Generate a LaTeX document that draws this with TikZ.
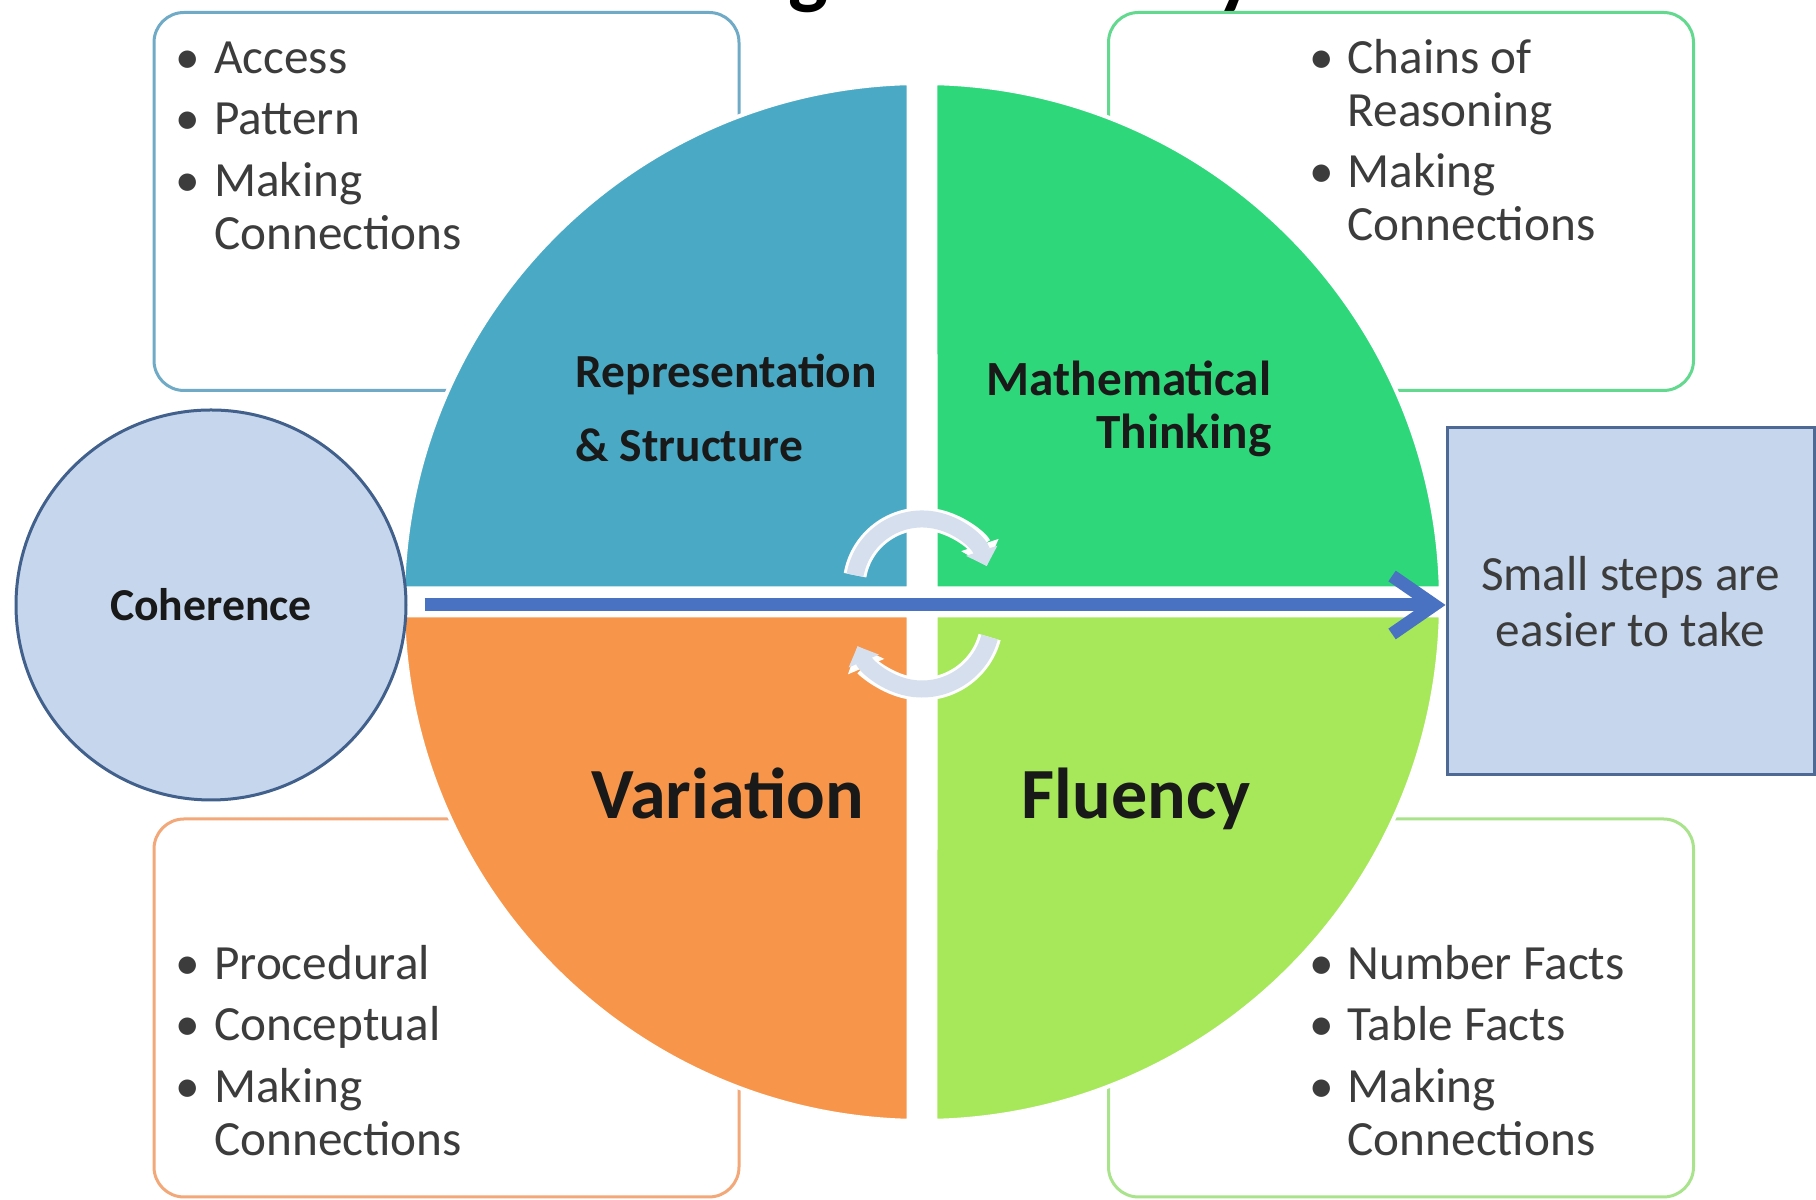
\documentclass[tikz,border=0pt]{standalone}
\usepackage{fontspec}
\setmainfont{Carlito}
\usetikzlibrary{positioning, arrows.meta}

\definecolor{repfill}{HTML}{4AAAC5}
\definecolor{mathfill}{HTML}{2ED87A}
\definecolor{varfill}{HTML}{F7964A}
\definecolor{flufill}{HTML}{A6E85A}
\definecolor{repline}{HTML}{6FAAC6}
\definecolor{mathline}{HTML}{62D98F}
\definecolor{varline}{HTML}{F2A878}
\definecolor{fluline}{HTML}{A9E48C}
\definecolor{cohfill}{HTML}{C6D6EC}
\definecolor{cohline}{HTML}{41608C}
\definecolor{stepline}{HTML}{4E6A94}
\definecolor{flowblue}{HTML}{4A72C2}
\definecolor{cyclefill}{HTML}{D5DFEE}
\definecolor{txtgray}{HTML}{3C3C3C}

\newcommand{\ptlist}[1]{{\fontsize{14}{15}\selectfont\begin{tabular}[t]{@{}l@{\hspace{1.4mm}}l@{}}#1\end{tabular}}}

\begin{document}
\begin{tikzpicture}[x=0.1mm, y=0.1mm,
    listbox/.style={draw, fill=white, line width=0.3mm, rounded corners=3mm, minimum width=58.5mm, minimum height=37.8mm, inner sep=0pt},
    listtext/.style={anchor=base west, inner sep=0pt, text=txtgray},
    quadlabel/.style={inner sep=0pt, text=black!90, font=\bfseries},
    cycleback/.style={white, line width=2.3mm, -{Triangle[length=2.2mm, width=3.8mm]}},
    cyclefront/.style={cyclefill, line width=1.7mm, -{Triangle[length=1.6mm, width=3.2mm]}},
    flow/.style={flowblue, line width=1.3mm, -{Straight Barb[length=4.2mm, width=5.8mm]}}]
    \useasboundingbox (0,0) rectangle (1816,1200);

    % title, only its lowest part is on the page
    \node[font=\bfseries\fontsize{24}{28}\selectfont, anchor=base, inner sep=0pt] (title) at (890,1201) {Teaching for Mastery};

    % the four boxes behind the circle
    \node[listbox, draw=repline] (repBox) at (446.5,998.5) {};
    \node[listbox, draw=mathline] (mathBox) at (1401,998.5) {};
    \node[listbox, draw=varline] (varBox) at (446.5,192) {};
    \node[listbox, draw=fluline] (fluBox) at (1401,192) {};

    \node[listtext] (repList) at ([xshift=2.25mm, yshift=-6.25mm]repBox.north west) {\ptlist{\textbullet & Access\\[2.5pt] \textbullet & Pattern\\[2.5pt] \textbullet & Making\\ & Connections}};
    \node[listtext] (mathList) at ([xshift=20.15mm, yshift=-6.25mm]mathBox.north west) {\ptlist{\textbullet & Chains of\\ & Reasoning\\[2.5pt] \textbullet & Making\\ & Connections}};
    \node[listtext] (varList) at ([xshift=2.25mm, yshift=-16.2mm]varBox.north west) {\ptlist{\textbullet & Procedural\\[2.5pt] \textbullet & Conceptual\\[2.5pt] \textbullet & Making\\ & Connections}};
    \node[listtext] (fluList) at ([xshift=20.15mm, yshift=-16.2mm]fluBox.north west) {\ptlist{\textbullet & Number Facts\\[2.5pt] \textbullet & Table Facts\\[2.5pt] \textbullet & Making\\ & Connections}};

    % quarters of the circle
    \begin{scope}[shift={(922,598)}]
        \foreach \col/\a in {mathfill/0, repfill/90, varfill/180, flufill/270}
            \filldraw[fill=\col, draw=white, line width=0.4mm] ({\a+45}:19.09) -- ({\a+1.49}:519) arc[start angle=\a+1.49, end angle=\a+88.51, radius=519] -- cycle;
    \end{scope}

    \node[quadlabel, anchor=base west] (repLabel) at (575,812) {\fontsize{13.5}{20.8}\selectfont\begin{tabular}[t]{@{}l@{}}Representation\\\& Structure\end{tabular}};
    \node[quadlabel, anchor=base east] (mathLabel) at (1272,804) {\fontsize{14}{15}\selectfont\begin{tabular}[t]{@{}r@{}}Mathematical\\Thinking\end{tabular}};
    \node[quadlabel, anchor=base west, font=\bfseries\fontsize{20.5}{24}\selectfont] (varLabel) at (591,381) {Variation};
    \node[quadlabel, anchor=base west, font=\bfseries\fontsize{20.5}{24}\selectfont] (fluLabel) at (1021,381) {Fluency};

    % turning arrows in the middle
    \draw[cycleback] (922,613) ++(170:68) arc[start angle=170, end angle=18, radius=68];
    \draw[cyclefront] (922,613) ++(170:68) arc[start angle=170, end angle=18, radius=68];
    \draw[cycleback] (922,581) ++(-15:70) arc[start angle=-15, end angle=-157, radius=70];
    \draw[cyclefront] (922,581) ++(-15:70) arc[start angle=-15, end angle=-157, radius=70];

    \node[circle, draw=cohline, fill=cohfill, line width=0.3mm, minimum size=39mm, inner sep=0pt, font=\bfseries\fontsize{13}{15}\selectfont, text=black!90] (coh) at (211,595) {Coherence};
    \node[draw=stepline, fill=cohfill, line width=0.3mm, minimum width=36.7mm, minimum height=34.7mm, align=center, font=\fontsize{14}{15.8}\selectfont, text=txtgray] (steps) at (1630.5,598.5) {Small steps are\\easier to take};

    \draw[flow] ([xshift=1.7mm]coh.east) -- (coh.east -| steps.west);
\end{tikzpicture}
\end{document}
